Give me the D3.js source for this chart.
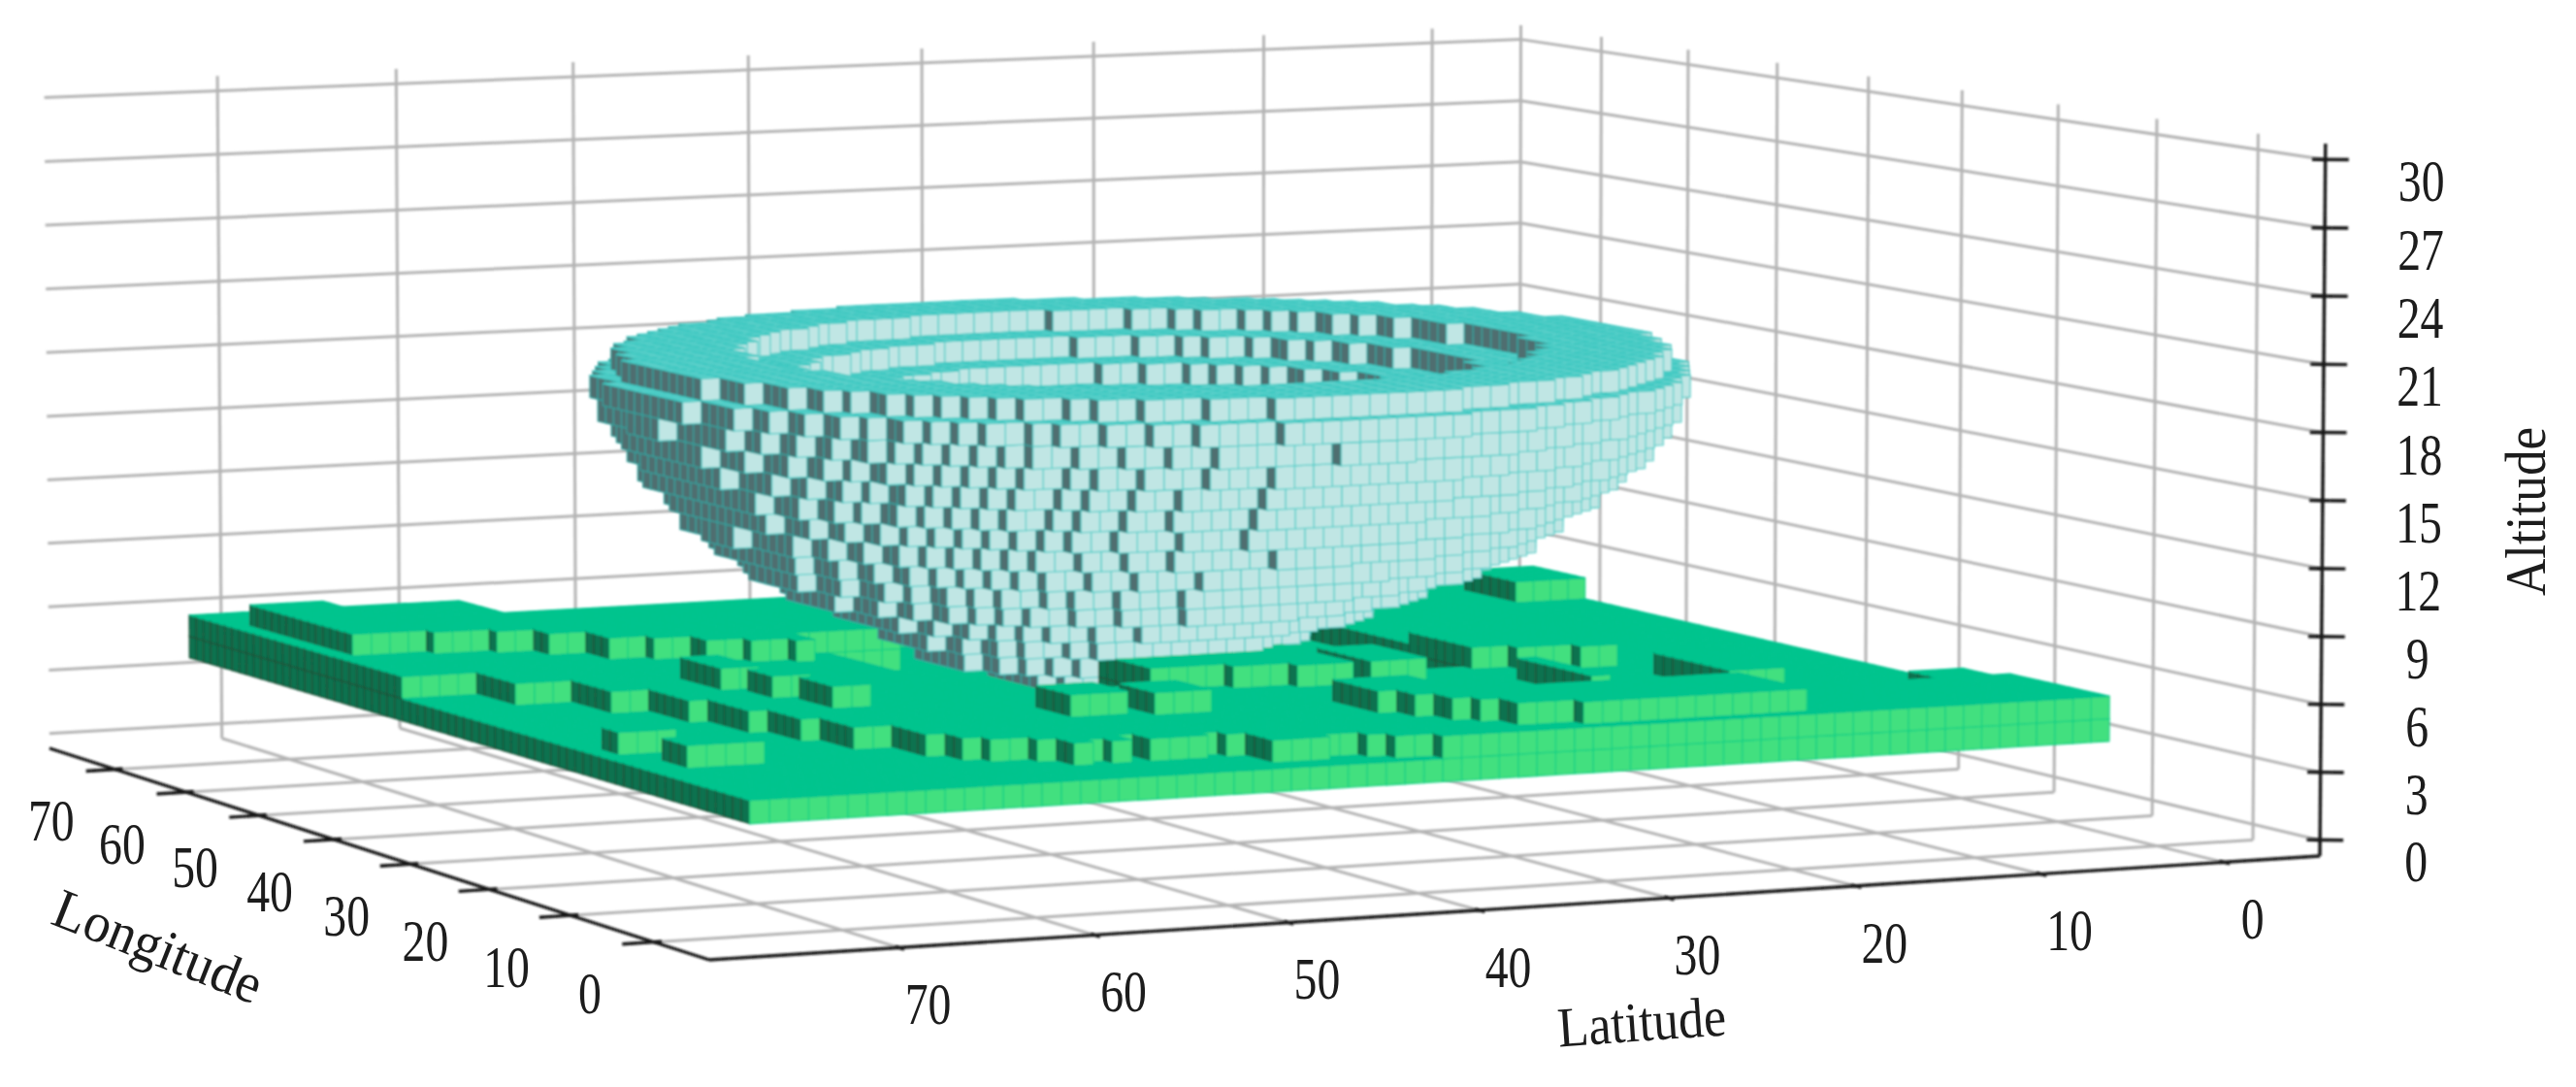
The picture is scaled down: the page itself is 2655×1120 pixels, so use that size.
<!DOCTYPE html>
<html><head><meta charset="utf-8">
<style>html,body{margin:0;background:#fff}svg{display:block}</style>
<script src="https://cdn.jsdelivr.net/npm/d3@7/dist/d3.min.js"></script>
</head><body><svg id="chart" width="2655" height="1120"></svg>
<script>
const lonTicks = [0,10,20,30,40,50,60,70];
const latTicks = [0,10,20,30,40,50,60,70];
const altTicks = [0,3,6,9,12,15,18,21,24,27,30];

// ground footprints: lon from, lon to, lat from, lat to, top altitude
const groundBase = [0,72,3,75,5];
const terraces = [
  [62,72,60,75,6],[43,66,71,75,6],[38,66,68,71,6],[33,66,66,68,6],[28,66,65,66,6],[23,66,64,65,6],
  [19,66,63,64,6],[15,66,61,63,6],[11,66,60,61,6],[9,66,59,60,6],[8,66,57,59,6],
  [7,66,56,57,6],[5,66,55,56,6],[6,66,54,55,6],[5,66,53,54,6],[7,66,52,53,6],[5,66,49,52,6],
  [6,66,48,49,6],[5,66,47,48,6],[2,66,44,47,6],[3,66,42,44,6],[2,66,41,42,6],[1,66,39,41,6],
  [0,10,3,39,6],[10,50,12,39,6],[10,13,4,7,6],
  [24,52,24,52,5]
];
const buildings = [
  [52,66,70,74,7],[51,56,67,70,7],[50,56,65,67,7],[48,56,63,65,7],[45,56,61,63,7],[44,56,59,61,7],
  [42,56,57,59,7],[41,56,55,57,7],[40,56,54,55,7],[43,56,48,54,7],
  [18,20,71,74,6],[12,15,69,73,6],
  [22,26,59,61,7],[27,30,60,62,7],[31,36,61,63,7],
  [22,28,40,44,7],[21,28,37,40,7],[20,28,34,37,7],
  [14,18,49,52,7],[13,17,45,48,7],
  [9,14,37,38,7],[7,14,36,37,7],[5,14,35,36,7],[4,14,34,35,7],[2,10,31,34,7],[1,8,19,31,7],
  [10,18,25,26,7],[9,17,16,19,7],
  [23,30,24,26,7],[22,30,21,24,7],[21,30,19,21,7],[20,26,30,33,7],
  [56,62,3,7,6]
];

// bowl layers: altitude of each layer, centre, outer and inner radius
const bowlLon = 36;
const bowlLat = [41,40.5,40.5,40,40,39.5,39,39,38.5,38.5,38,38,38,38,38];
const bowlLayers = [5,6,7,8,9,10,11,12,13,14,15,16,17,18,19];
const bowlOuter = [4.5,8.5,10.4,13.2,15.8,18.2,20.2,21.6,22.9,24,25,25.9,26.6,27,25.9];
const bowlInner = [0,0,0,0,0,0,0,0,0,0,0,0,14,17,20];

const lonS=d3.scaleLinear().domain([-6.5,79.5]).range([0,1]);
const latS=d3.scaleLinear().domain([-5.3,79.6]).range([0,1]);
const altS=d3.scaleLinear().domain([-0.7,30.7]).range([0,1]);

// camera from the box corners: floor homography + vertical column
function solve(A,b){
  const n=b.length,M=A.map((r,i)=>[...r,b[i]]);
  for(let i=0;i<n;i++){
    let p=i;for(let k=i+1;k<n;k++)if(Math.abs(M[k][i])>Math.abs(M[p][i]))p=k;
    [M[i],M[p]]=[M[p],M[i]];
    for(let k=0;k<n;k++){if(k===i)continue;const f=M[k][i]/M[i][i];for(let j=i;j<=n;j++)M[k][j]-=f*M[i][j];}
  }
  return M.map((r,i)=>r[n]/r[i]);
}
const floorPts=[[0,0,2391,882],[0,1,731,989],[1,1,51,771],[1,0,1566,684]];
const A8=[],b8=[];
floorPts.forEach(([u,v,x,y])=>{
  A8.push([u,v,1,0,0,0,-u*x,-v*x]);b8.push(x);
  A8.push([0,0,0,u,v,1,-u*y,-v*y]);b8.push(y);
});
const h=solve(A8,b8);
const den=(u,v)=>h[6]*u+h[7]*v+1, nx=(u,v)=>h[0]*u+h[1]*v+h[2], ny=(u,v)=>h[3]*u+h[4]*v+h[5];
// top corners of the box, fitted by least squares
const topPts=[[0,0,2398,147],[1,0,1566,29],[1,1,46,83]];
const rows=[],rhs=[];
topPts.forEach(([u,v,x,y])=>{
  rows.push([1,0,-x]);rhs.push(x*den(u,v)-nx(u,v));
  rows.push([0,1,-y]);rhs.push(y*den(u,v)-ny(u,v));
});
const scale3=[1,1,1000];
const scaled=rows.map(r=>r.map((v,i)=>v*scale3[i]));
const ata=[0,1,2].map(a=>[0,1,2].map(b=>d3.sum(scaled,r=>r[a]*r[b])));
const atb=[0,1,2].map(a=>d3.sum(scaled,(r,i)=>r[a]*rhs[i]));
const zc=solve(ata,atb).map((v,i)=>v*scale3[i]);
function project(lon,lat,alt){
  const u=lonS(lon),v=latS(lat),w=altS(alt),d=den(u,v)+zc[2]*w;
  return [(nx(u,v)+zc[0]*w)/d,(ny(u,v)+zc[1]*w)/d];
}
const svg=d3.select('#chart');
const lineP=d3.line();
svg.append('defs').append('filter').attr('id','soft').append('feGaussianBlur').attr('stdDeviation',1.1);
const gridG=svg.append('g').attr('fill','none').attr('stroke','#b4b4b4').attr('stroke-width',3).attr('filter','url(#soft)');
const [lonLo,lonHi]=lonS.domain(),[latLo,latHi]=latS.domain(),[altLo,altHi]=altS.domain();
const seg=(a,b)=>lineP([project(...a),project(...b)]);
const gridSegs=[];
altTicks.forEach(z=>{gridSegs.push(seg([lonHi,latHi,z],[lonHi,latLo,z]));gridSegs.push(seg([lonHi,latLo,z],[lonLo,latLo,z]));});
latTicks.forEach(l=>{gridSegs.push(seg([lonHi,l,altHi],[lonHi,l,altLo]));gridSegs.push(seg([lonHi,l,altLo],[lonLo,l,altLo]));});
lonTicks.forEach(l=>{gridSegs.push(seg([l,latLo,altHi],[l,latLo,altLo]));gridSegs.push(seg([l,latLo,altLo],[l,latHi,altLo]));});
gridSegs.push(seg([lonHi,latLo,altHi],[lonHi,latLo,altLo]));
gridG.selectAll('path').data(gridSegs).join('path').attr('d',d=>d);

// voxels
const latShift=-0.3, altShift=0.1, groundFloor=4;
const cells=new Map();
const key=(i,j,k)=>i+','+j+','+k;
const fill=(i,j,k,kind)=>cells.set(key(i,j,k),{i,j,k,kind});
const ground=new Map();
[groundBase].concat(terraces,buildings).forEach(([a,b,c,d,top])=>{
  for(let i=a;i<b;i++)for(let j=c;j<d;j++)ground.set(i+','+j,top);
});
ground.forEach((top,p)=>{
  const [i,j]=p.split(',').map(Number);
  for(let k=groundFloor;k<top;k++)fill(i,j,k,'g');
});
bowlLayers.forEach((k,n)=>{
  const R=bowlOuter[n],r=bowlInner[n],cLat=bowlLat[n];
  for(let i=Math.floor(bowlLon-R)-1;i<=bowlLon+R;i++)
    for(let j=Math.floor(cLat-R)-1;j<=cLat+R;j++){
      const q=Math.hypot(i+.5-bowlLon,j+.5-cLat);
      if(q<=R&&q>=r)fill(i,j,k,'b');
    }
});
const colours={
 g:{t:['#00c48e','#00c48e'],l:['#42e07f','#14d184'],d:['#0b7250','#1f5238']},
 b:{t:['#74d8d3','#3ec8c1'],l:['#c0e6e4','#58cfca'],d:['#4f6e70','#35a09c']}
};
const faces=[];
const ordered=[...cells.values()].sort((p,q)=>d3.descending(p.i,q.i)||d3.ascending(p.j,q.j)||d3.ascending(p.k,q.k));
ordered.forEach(({i,j,k,kind})=>{
  const c=colours[kind];
  if(!cells.has(key(i,j+1,k)))faces.push({p:[[i,j+1,k],[i+1,j+1,k],[i+1,j+1,k+1],[i,j+1,k+1]],c:c.d});
  if(!cells.has(key(i-1,j,k)))faces.push({p:[[i,j,k],[i,j+1,k],[i,j+1,k+1],[i,j,k+1]],c:c.l});
  if(!cells.has(key(i,j,k+1)))faces.push({p:[[i,j,k+1],[i+1,j,k+1],[i+1,j+1,k+1],[i,j+1,k+1]],c:c.t});
});
svg.append('g').attr('filter','url(#soft)').selectAll('path').data(faces).join('path')
 .attr('d',f=>lineP(f.p.map(([i,j,k])=>project(i,j+latShift,k+altShift)))+'Z')
 .attr('fill',f=>f.c[0]).attr('stroke',f=>f.c[1]).attr('stroke-width',1.3);

// axes
const axisG=svg.append('g').attr('fill','none').attr('stroke','#141414').attr('stroke-width',3.4).attr('filter','url(#soft)');
const axisSegs=[seg([lonHi,latHi,altLo],[lonLo,latHi,altLo]),seg([lonLo,latHi,altLo],[lonLo,latLo,altLo]),seg([lonLo,latLo,altLo],[lonLo,latLo,altHi])];
lonTicks.forEach(l=>axisSegs.push(seg([l,latHi+1.6,altLo],[l,latHi-0.4,altLo])));
latTicks.forEach(l=>axisSegs.push(seg([lonLo-0.6,l,altLo],[lonLo+0.4,l,altLo])));
altTicks.forEach(z=>axisSegs.push(seg([lonLo-0.5,latLo-1.0,z],[lonLo+0.4,latLo+0.5,z])));
axisG.selectAll('path').data(axisSegs).join('path').attr('d',d=>d);

const font='"Liberation Serif"';
function label(x,y,t,size,sx,rot){
 svg.append('text').attr('transform',`translate(${x},${y}) rotate(${rot||0}) scale(${sx},1)`)
  .attr('text-anchor','middle').attr('dominant-baseline','central').attr('font-family',font).attr('font-size',size).attr('fill','#1c1c1c').text(t);
}
lonTicks.forEach(l=>{const p=project(l,latHi,altLo);label(p[0]-66,p[1]+53,l,62,0.77);});
latTicks.forEach(l=>{const p=project(lonLo,l,altLo);label(p[0]+30,p[1]+58,l,62,0.77);});
altTicks.forEach(z=>{const p=project(lonLo,latLo,z);label(p[0]+99,p[1]+22,z,62,0.77);});
label(163,975,'Longitude',58,0.95,21.7);
label(1692,1053,'Latitude',58,0.9,-4);
label(2603,527,'Altitude',59,0.9,-90);
</script></body></html>
